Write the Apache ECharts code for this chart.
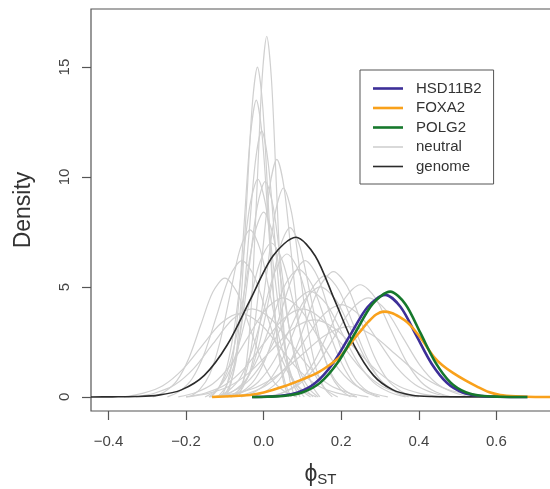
<!DOCTYPE html>
<html>
<head>
<meta charset="utf-8">
<script src="https://cdn.jsdelivr.net/npm/echarts@6.0.0/dist/echarts.min.js"></script>
<style>
  html, body { margin: 0; padding: 0; background: #fff; }
  #root { width: 550px; height: 489px; }
</style>
</head>
<body>
<div id="root"></div>
<script>
// neutral loci: phi knots and density knots
const neutralX = [
  [-0.064,-0.052,-0.040,-0.028,-0.016,-0.004,0.008,0.020,0.032,0.044,0.056,0.068,0.080],
  [-0.097,-0.0835,-0.070,-0.0565,-0.043,-0.0295,-0.016,-0.0025,0.011,0.0245,0.038,0.0515,0.065],
  [-0.109,-0.094,-0.079,-0.064,-0.049,-0.034,-0.019,-0.004,0.011,0.026,0.041,0.056,0.071],
  [-0.104,-0.0875,-0.071,-0.0545,-0.038,-0.0215,-0.005,0.0115,0.028,0.0445,0.061,0.0775,0.094],
  [-0.077,-0.0585,-0.040,-0.0215,-0.003,0.0155,0.034,0.0525,0.071,0.0895,0.108,0.1265,0.145],
  [-0.135,-0.115,-0.095,-0.075,-0.055,-0.035,-0.015,0.005,0.025,0.045,0.065,0.085,0.105],
  [-0.119,-0.0985,-0.078,-0.0575,-0.037,-0.0165,0.004,0.0245,0.045,0.0655,0.086,0.1065,0.127],
  [-0.075,-0.054,-0.033,-0.012,0.009,0.030,0.051,0.072,0.093,0.114,0.135,0.156,0.177],
  [-0.141,-0.1175,-0.094,-0.0705,-0.047,-0.0235,0.000,0.0235,0.047,0.0705,0.094,0.1175,0.141],
  [-0.088,-0.062,-0.036,-0.010,0.016,0.042,0.068,0.094,0.120,0.146,0.172,0.198,0.224],
  [-0.191,-0.165,-0.139,-0.113,-0.087,-0.061,-0.035,-0.009,0.017,0.043,0.069,0.095,0.121],
  [-0.151,-0.1225,-0.094,-0.0655,-0.037,-0.0085,0.020,0.0485,0.077,0.1055,0.134,0.1625,0.191],
  [-0.248,-0.216,-0.184,-0.152,-0.120,-0.088,-0.056,-0.024,0.008,0.040,0.072,0.104,0.136],
  [-0.085,-0.053,-0.021,0.011,0.043,0.075,0.107,0.139,0.171,0.203,0.235,0.267,0.299],
  [-0.286,-0.255,-0.224,-0.193,-0.162,-0.131,-0.100,-0.069,-0.038,-0.007,0.024,0.055,0.086],
  [-0.058,-0.022,0.014,0.050,0.086,0.122,0.158,0.194,0.230,0.266,0.302,0.338,0.374],
  [-0.030,0.005,0.040,0.075,0.110,0.145,0.180,0.215,0.250,0.285,0.320,0.355,0.390],
  [-0.094,-0.054,-0.014,0.026,0.066,0.106,0.146,0.186,0.226,0.266,0.306,0.346,0.386],
  [0.015,0.054,0.093,0.132,0.171,0.210,0.249,0.288,0.327,0.366,0.405,0.444,0.483],
  [0.006,0.050,0.094,0.138,0.182,0.226,0.270,0.314,0.358,0.402,0.446,0.490,0.534],
  [-0.220,-0.175,-0.130,-0.085,-0.040,0.005,0.050,0.095,0.140,0.185,0.230,0.275,0.320],
  [-0.200,-0.150,-0.100,-0.050,0.000,0.050,0.100,0.150,0.200,0.250,0.300,0.350,0.400],
  [-0.085,-0.0375,0.010,0.0575,0.105,0.1525,0.200,0.2475,0.295,0.3425,0.390,0.4375,0.485],
  [-0.330,-0.280,-0.230,-0.180,-0.130,-0.080,-0.030,0.020,0.070,0.120,0.170,0.220,0.270],
  [-0.200,-0.145,-0.090,-0.035,0.020,0.075,0.130,0.185,0.240,0.295,0.350,0.405,0.460],
  [-0.140,-0.080,-0.020,0.040,0.100,0.160,0.220,0.280,0.340,0.400,0.460,0.520,0.580],
  [-0.120,-0.090,-0.060,-0.030,0.000,0.030,0.060,0.090,0.120,0.150,0.180,0.210,0.240],
  [-0.114,-0.080,-0.046,-0.012,0.022,0.056,0.090,0.124,0.158,0.192,0.226,0.260,0.294],
  [-0.360,-0.310,-0.260,-0.210,-0.160,-0.110,-0.060,-0.010,0.040,0.090,0.140,0.190,0.240],
  [-0.126,-0.085,-0.044,-0.003,0.038,0.079,0.120,0.161,0.202,0.243,0.284,0.325,0.366]
];
const neutralY = [
  [0,0.72,2.22,5.32,9.95,14.47,16.4,14.47,9.95,5.32,2.22,0.72,0],
  [0,0.66,2.03,4.87,9.10,13.24,15.0,13.24,9.10,4.87,2.03,0.66,0],
  [0,0.59,1.83,4.38,8.19,11.91,13.5,11.91,8.19,4.38,1.83,0.59,0],
  [0,0.53,1.64,3.93,7.34,10.68,12.1,10.68,7.34,3.93,1.64,0.53,0],
  [0,0.47,1.46,3.51,6.55,9.53,10.8,9.53,6.55,3.51,1.46,0.47,0],
  [0,0.43,1.34,3.21,6.00,8.74,9.9,8.74,6.00,3.21,1.34,0.43,0],
  [0,0.43,1.33,3.18,5.94,8.65,9.8,8.65,5.94,3.18,1.33,0.43,0],
  [0,0.42,1.29,3.08,5.76,8.38,9.5,8.38,5.76,3.08,1.29,0.42,0],
  [0,0.37,1.14,2.73,5.09,7.41,8.4,7.41,5.09,2.73,1.14,0.37,0],
  [0,0.34,1.04,2.50,4.67,6.80,7.7,6.80,4.67,2.50,1.04,0.34,0],
  [0,0.33,1.03,2.47,4.61,6.71,7.6,6.71,4.61,2.47,1.03,0.33,0],
  [0,0.31,0.95,2.27,4.25,6.18,7.0,6.18,4.25,2.27,0.95,0.31,0],
  [0,0.27,0.84,2.01,3.76,5.47,6.2,5.47,3.76,2.01,0.84,0.27,0],
  [0,0.27,0.84,2.01,3.76,5.47,6.2,5.47,3.76,2.01,0.84,0.27,0],
  [0,0.24,0.73,1.75,3.28,4.77,5.4,4.77,3.28,1.75,0.73,0.24,0],
  [0,0.24,0.74,1.79,3.34,4.85,5.5,4.85,3.34,1.79,0.74,0.24,0],
  [0,0.25,0.77,1.85,3.46,5.03,5.7,5.03,3.46,1.85,0.77,0.25,0],
  [0,0.22,0.68,1.62,3.03,4.41,5.0,4.41,3.03,1.62,0.68,0.22,0],
  [0,0.22,0.69,1.66,3.09,4.50,5.1,4.50,3.09,1.66,0.69,0.22,0],
  [0,0.20,0.61,1.46,2.73,3.97,4.5,3.97,2.73,1.46,0.61,0.20,0],
  [0,0.20,0.61,1.46,2.73,3.97,4.5,3.97,2.73,1.46,0.61,0.20,0],
  [0,0.18,0.54,1.30,2.43,3.53,4.0,3.53,2.43,1.30,0.54,0.18,0],
  [0,0.18,0.57,1.36,2.55,3.71,4.2,3.71,2.55,1.36,0.57,0.18,0],
  [0,0.18,0.54,1.30,2.43,3.53,4.0,3.53,2.43,1.30,0.54,0.18,0],
  [0,0.15,0.47,1.14,2.12,3.09,3.5,3.09,2.12,1.14,0.47,0.15,0],
  [0,0.14,0.43,1.04,1.94,2.82,3.2,2.82,1.94,1.04,0.43,0.14,0],
  [0,0.29,0.88,2.11,3.94,5.74,6.5,5.74,3.94,2.11,0.88,0.29,0],
  [0,0.25,0.78,1.88,3.52,5.12,5.8,5.12,3.52,1.88,0.78,0.25,0],
  [0,0.17,0.51,1.23,2.30,3.35,3.8,3.35,2.30,1.23,0.51,0.17,0],
  [0,0.21,0.65,1.56,2.91,4.24,4.8,4.24,2.91,1.56,0.65,0.21,0]
];

const genome = [[-0.445,0],[-0.39,0.004],[-0.33,0.016],[-0.271,0.08],[-0.212,0.32],[-0.153,0.98],[-0.094,2.36],
  [-0.035,4.40],[0.024,6.41],[0.083,7.26],[0.133,6.41],[0.183,4.40],[0.233,2.36],[0.283,0.98],[0.333,0.32],
  [0.383,0.08],[0.433,0.016],[0.50,0.002],[0.77,0]];

const hsd11b2 = [[-0.030,0],[0.000,0.01],[0.043,0.05],[0.088,0.20],[0.133,0.63],[0.178,1.51],[0.223,2.81],[0.268,4.09],
  [0.313,4.64],[0.353,4.09],[0.393,2.81],[0.433,1.51],[0.473,0.63],[0.513,0.20],[0.553,0.05],[0.600,0.01],[0.680,0]];

const foxa2 = [[-0.133,0],[-0.035,0.09],[0.000,0.2],[0.051,0.47],[0.100,0.8],[0.137,1.08],[0.170,1.45],[0.197,1.83],
  [0.231,2.59],[0.250,3.0],[0.270,3.42],[0.290,3.75],[0.309,3.88],[0.330,3.82],[0.350,3.64],[0.370,3.4],[0.386,3.1],
  [0.410,2.55],[0.438,1.83],[0.460,1.45],[0.489,1.08],[0.520,0.75],[0.550,0.47],[0.580,0.22],[0.610,0.09],
  [0.650,0.03],[0.700,0],[0.780,0]];

const polg2 = [[-0.030,0],[0.010,0.01],[0.056,0.05],[0.101,0.21],[0.146,0.65],[0.191,1.56],[0.236,2.91],[0.281,4.23],
  [0.326,4.79],[0.365,4.23],[0.404,2.91],[0.443,1.56],[0.482,0.65],[0.521,0.21],[0.560,0.05],[0.610,0.01],[0.680,0]];

const legendNames = ['HSD11B2', 'FOXA2', 'POLG2', 'neutral', 'genome'];
const xTicks = [-0.4, -0.2, 0, 0.2, 0.4, 0.6];
const yTicks = [0, 5, 10, 15];

const chart = echarts.init(document.getElementById('root'));

const font = '"Liberation Sans", Arial, Helvetica, sans-serif';

function line(name, data, color, width, z) {
  return {
    name: name,
    type: 'line',
    data: data,
    smooth: 0.3,
    symbol: 'none',
    showSymbol: false,
    z: z,
    lineStyle: { color: color, width: width },
    itemStyle: { color: color }
  };
}

const series = neutralX.map((xs, i) =>
  line('neutral', xs.map((x, j) => [x, neutralY[i][j]]), '#d0d0d0', 1.2, 1));
series.push(line('genome', genome, '#2b2b2b', 1.6, 2));
series.push(line('HSD11B2', hsd11b2, '#3d2f98', 2.6, 3));
series.push(line('FOXA2', foxa2, '#f9a11b', 2.6, 4));
series.push(line('POLG2', polg2, '#16782c', 2.6, 5));

const thick = 'path://M0 0H30V2.6H0Z';
const thin = 'path://M0 0H30V1.6H0Z';

const option = {
  animation: false,
  backgroundColor: '#fff',
  grid: {
    left: 91, top: 9, right: -12, bottom: 78,
    outerBoundsMode: 'none',
    containLabel: false,
    show: true, borderColor: '#555', borderWidth: 1.2
  },
  legend: {
    orient: 'vertical',
    left: 360, top: 70,
    data: legendNames.map((n, i) => ({ name: n, icon: i < 3 ? thick : thin })),
    itemWidth: 30, itemHeight: 14, itemGap: 4.5,
    padding: [11, 12, 10, 13],
    borderColor: '#555', borderWidth: 1,
    backgroundColor: '#fff',
    textStyle: { fontFamily: font, fontSize: 15, lineHeight: 14, color: '#333', padding: [0, 0, 0, 8] }
  },
  xAxis: {
    type: 'value',
    min: -0.445, max: 0.769,
    name: '{a|\u03d5}{b|ST}',
    nameLocation: 'middle',
    nameGap: 52,
    nameTextStyle: {
      rich: {
        a: { fontFamily: font, fontSize: 23, color: '#333' },
        b: { fontFamily: font, fontSize: 15, color: '#333', padding: [9, 12, 0, 0] }
      }
    },
    splitLine: { show: false },
    axisLine: { show: false, onZero: false },
    axisTick: { show: true, length: 9, customValues: xTicks, lineStyle: { color: '#555', width: 1.2 } },
    axisLabel: {
      customValues: xTicks, margin: 23,
      fontFamily: font, fontSize: 15, color: '#444',
      formatter: (v) => v.toFixed(1).replace('-', '\u2212')
    }
  },
  yAxis: {
    type: 'value',
    min: -0.64, max: 17.64,
    name: 'Density',
    nameLocation: 'middle',
    nameGap: 56,
    nameRotate: 90,
    nameTextStyle: { fontFamily: font, fontSize: 23, color: '#333' },
    splitLine: { show: false },
    axisLine: { show: false, onZero: false },
    axisTick: { show: true, length: 9, customValues: yTicks, lineStyle: { color: '#555', width: 1.2 } },
    axisLabel: {
      customValues: yTicks, rotate: 90, margin: 26,
      fontFamily: font, fontSize: 15, color: '#444',
      align: 'center', verticalAlign: 'middle'
    }
  },
  series: series
};

chart.setOption(option);
</script>
</body>
</html>
